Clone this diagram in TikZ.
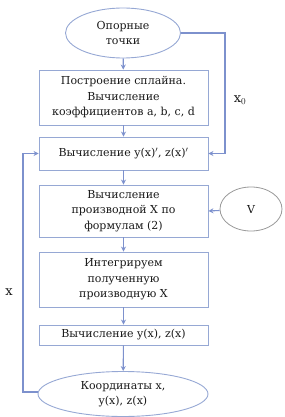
\documentclass[tikz,border=0pt]{standalone}
\usepackage{fontspec}
\setmainfont{DejaVu Serif}
\usetikzlibrary{shapes.geometric,arrows.meta}
\definecolor{boxc}{RGB}{150,168,212}
\definecolor{linec}{RGB}{125,145,205}
\definecolor{txt}{RGB}{25,25,25}
\begin{document}
\begin{tikzpicture}[x=1pt,y=-1pt,
  every node/.style={text=txt,font=\fontsize{11}{15.5}\selectfont},
  stepbox/.style={draw=boxc,line width=0.9pt,minimum width=169pt,align=center,inner sep=0pt},
  term/.style={draw=boxc,line width=0.9pt,ellipse,align=center,inner sep=0pt},
  conn/.style={draw=linec,line width=1.1pt,-{Stealth[length=5pt,width=5pt]}}]
\useasboundingbox (0,0) rectangle (284,417);
\node[term,minimum width=115pt,minimum height=50pt] (start) at (123,33) {Опорные\\точки};
\node[stepbox,minimum height=55pt] (b1) at (123.5,97.5) {Построение сплайна.\\Вычисление\\коэффициентов a, b, c, d};
\node[stepbox,minimum height=33pt] (b2) at (123.5,153.5) {Вычисление y(x)$'$, z(x)$'$};
\node[stepbox,minimum height=52pt] (b3) at (123.5,211) {Вычисление\\производной X  по\\формулам (2)};
\node[stepbox,minimum height=55pt] (b4) at (123.5,279.5) {Интегрируем\\полученную\\производную X};
\node[stepbox,minimum height=20pt] (b5) at (123.5,335) {Вычисление y(x), z(x)};
\node[term,minimum width=170pt,minimum height=45pt] (end) at (123,394) {Координаты x,\\y(x), z(x)};
\node[draw=gray!80,line width=0.8pt,ellipse,minimum width=62pt,minimum height=44pt,inner sep=0pt] (v) at (251,209) {V};
\coordinate (r1) at (225,33);
\coordinate (r2) at (225,153.5);
\coordinate (l1) at (23,392);
\coordinate (l2) at (23,153.5);
\draw[conn] (start) -- (b1);
\draw[conn] (b1) -- (b2);
\draw[conn] (b2) -- (b3);
\draw[conn] (b3) -- (b4);
\draw[conn] (b4) -- (b5);
\draw[conn] (b5) -- (end);
\draw[conn] (start.east) -- (r1) -- (r2) -- (b2.east);
\draw[conn] (v) -- (b3.east);
\draw[conn] (end.west |- l1) -- (l1) -- (l2) -- (b2.west);
\node[font=\fontsize{13}{15}\selectfont] (x0) at (240,100) {x$_0$};
\node[font=\fontsize{13}{15}\selectfont] (xl) at (9,292) {x};
\end{tikzpicture}
\end{document}
